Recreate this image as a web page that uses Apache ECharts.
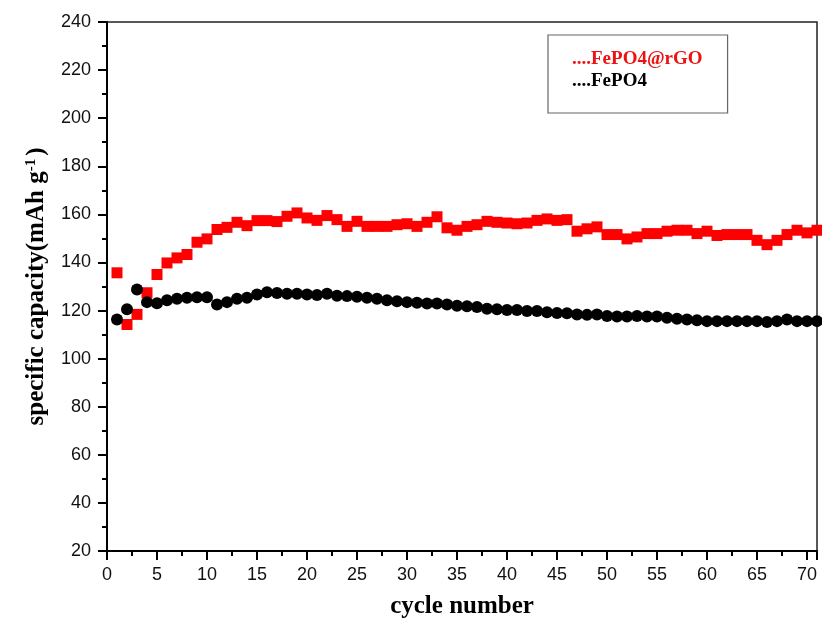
<!DOCTYPE html>
<html>
<head>
<meta charset="utf-8">
<script src="https://cdn.jsdelivr.net/npm/echarts@6/dist/echarts.min.js"></script>
<style>html,body{margin:0;padding:0;background:#fff}#c{width:822px;height:624px}</style>
</head>
<body>
<div id="c"></div>
<script>
const cycles = Array.from({length: 71}, (_, i) => i + 1);
const seriesNames = ['FePO4@rGO', 'FePO4'];
const rgoCapacity = [135.7, 114.2, 118.4, 127.4, 135, 139.8, 141.9, 143.3, 148.4, 149.8,
  153.7, 154.6, 156.7, 155.3, 157.4, 157.4, 157, 159.2, 160.6, 158.5,
  157.5, 159.5, 157.8, 155, 157.1, 155, 155, 155, 155.7, 156.1,
  155, 156.7, 159, 154.4, 153.4, 155, 155.7, 157.1, 156.7, 156.4,
  156.1, 156.4, 157.5, 158.1, 157.5, 157.8, 153, 154, 154.8, 151.6,
  151.6, 149.8, 150.6, 152, 152, 153, 153.4, 153.4, 152, 153,
  151.2, 151.6, 151.6, 151.6, 149.2, 147.4, 149.2, 151.6, 153.4, 152.3, 153.4];
const fepoCapacity = [116.3, 120.5, 128.8, 123.5, 123, 124.3, 124.9, 125.3, 125.5, 125.5,
  122.5, 123.5, 124.9, 125.3, 126.7, 127.6, 127.3, 127, 127, 126.7,
  126.5, 127, 126.2, 126, 125.7, 125.3, 124.9, 124.3, 123.9, 123.5,
  123.2, 122.9, 122.9, 122.5, 122, 121.8, 121.5, 120.7, 120.5, 120.2,
  120.2, 119.8, 119.8, 119.3, 119, 118.9, 118.4, 118.2, 118.4, 117.7,
  117.5, 117.5, 117.7, 117.5, 117.5, 117, 116.6, 116.3, 116, 115.6,
  115.6, 115.6, 115.6, 115.6, 115.6, 115.2, 115.6, 116.3, 115.6, 115.6, 115.6];
const xAxisRange = [0, 71, 5];
const yAxisRange = [20, 240, 20];

const chart = echarts.init(document.getElementById('c'), null, {renderer: 'canvas'});
const serif = 'Liberation Serif';
const sans = 'Liberation Sans';
chart.setOption({
  animation: false,
  backgroundColor: '#fff',
  grid: {left: 107, top: 22, right: 5, bottom: 72, show: true, borderColor: '#222', borderWidth: 1.5, backgroundColor: 'transparent'},
  legend: {
    left: 548, top: 35, orient: 'vertical',
    padding: [14, 25, 22, 19],
    borderColor: '#666', borderWidth: 1.2,
    icon: 'none', itemWidth: 0, itemHeight: 14, itemGap: 2,
    formatter: '....{name}',
    textStyle: {fontFamily: serif, fontWeight: 'bold', fontSize: 19, lineHeight: 20},
    data: [
      {name: seriesNames[0], textStyle: {color: '#ee1111'}},
      {name: seriesNames[1], textStyle: {color: '#000'}}
    ]
  },
  xAxis: {
    type: 'value', min: xAxisRange[0], max: xAxisRange[1], interval: xAxisRange[2],
    name: 'cycle number', nameLocation: 'middle', nameGap: 43,
    nameTextStyle: {fontFamily: serif, fontWeight: 'bold', fontSize: 25, color: '#000'},
    axisLine: {onZero: false, lineStyle: {color: '#000', width: 2}},
    axisTick: {inside: false, length: 9, lineStyle: {color: '#000', width: 2}},
    minorTick: {show: true, splitNumber: 2, length: 5, lineStyle: {color: '#000', width: 2}},
    axisLabel: {margin: 15, fontFamily: sans, fontSize: 18, color: '#111',
      formatter: v => (v % 5 === 0 ? String(v) : '')},
    splitLine: {show: false}
  },
  yAxis: {
    type: 'value', min: yAxisRange[0], max: yAxisRange[1], interval: yAxisRange[2],
    name: 'specific capacity(mAh g{sup|-1})', nameLocation: 'middle', nameGap: 58,
    nameTextStyle: {fontFamily: serif, fontWeight: 'bold', fontSize: 25, color: '#000',
      rich: {sup: {fontFamily: serif, fontWeight: 'bold', fontSize: 15, verticalAlign: 'top', padding: [0, 3, 10, 0], color: '#000'}}},
    axisLine: {onZero: false, lineStyle: {color: '#000', width: 2}},
    axisTick: {inside: false, length: 9, lineStyle: {color: '#000', width: 2}},
    minorTick: {show: true, splitNumber: 2, length: 5, lineStyle: {color: '#000', width: 2}},
    axisLabel: {margin: 16, fontFamily: sans, fontSize: 18, color: '#111'},
    splitLine: {show: false}
  },
  series: [
    {name: seriesNames[0], type: 'scatter', symbol: 'rect', symbolSize: 11,
      itemStyle: {color: '#ff0000', opacity: 1}, data: cycles.map((c, i) => [c, rgoCapacity[i]])},
    {name: seriesNames[1], type: 'scatter', symbol: 'circle', symbolSize: 12,
      itemStyle: {color: '#000', opacity: 1}, data: cycles.map((c, i) => [c, fepoCapacity[i]])}
  ]
});
</script>
</body>
</html>
